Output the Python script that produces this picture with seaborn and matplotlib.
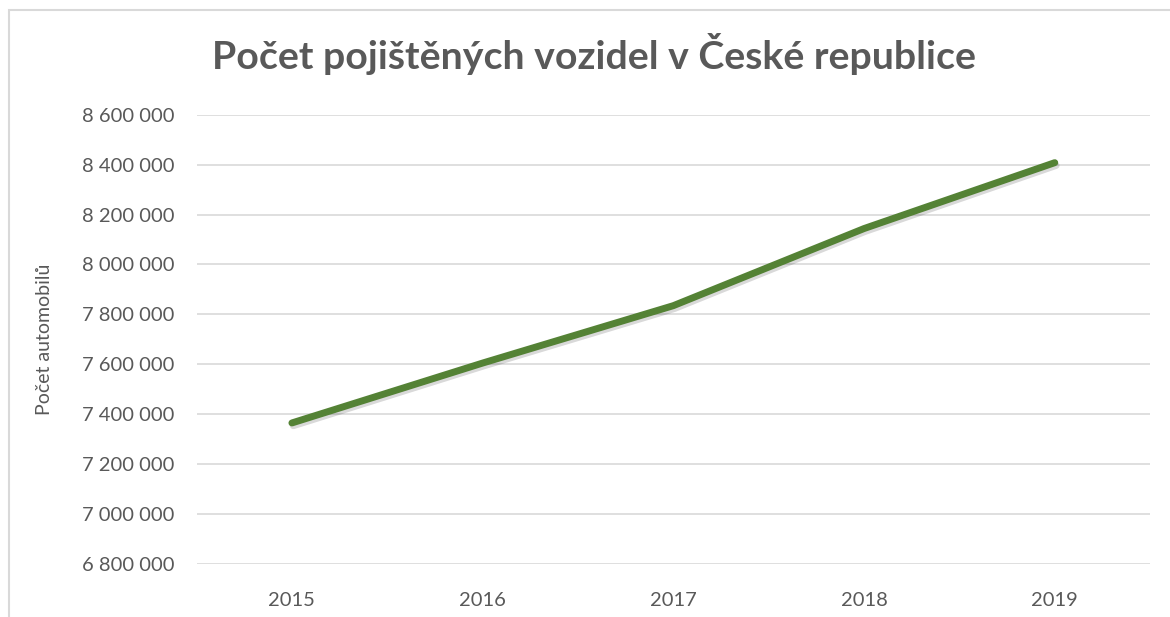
import matplotlib
matplotlib.use('Agg')
import matplotlib.pyplot as plt
import matplotlib.patheffects as pe
from matplotlib.patches import Rectangle
from matplotlib.ticker import FuncFormatter, MultipleLocator
import pandas as pd
import seaborn as sns

# data
years = ['2015', '2016', '2017', '2018', '2019']
vehicles = [7365000, 7605000, 7835000, 8144000, 8408000]

title = 'Počet pojištěných vozidel v České republice'
y_label = 'Počet automobilů'

df = pd.DataFrame({'rok': years, 'pocet': vehicles})

sns.set_theme(style='white')
plt.rcParams['font.family'] = ['Lato', 'DejaVu Sans']

grey = '#595959'
green = '#548235'

fig = plt.figure(figsize=(11.7, 6.17), dpi=100)
ax = fig.add_axes([0.168, 0.086, 0.815, 0.728])

sns.lineplot(data=df, x='rok', y='pocet', sort=False, color=green, linewidth=5,
             solid_capstyle='round', ax=ax,
             path_effects=[pe.SimpleLineShadow(offset=(1, -2), shadow_color='#000000', alpha=0.15),
                           pe.Normal()])

ax.set_xlim(-0.5, len(years) - 0.5)
ax.set_ylim(6800000, 8600000)
ax.yaxis.set_major_locator(MultipleLocator(200000))
ax.yaxis.set_major_formatter(FuncFormatter(lambda v, p: f'{v:,.0f}'.replace(',', ' ')))
ax.grid(axis='y', color='#d9d9d9', linewidth=1.2)
ax.set_axisbelow(True)
for s in ax.spines.values():
    s.set_visible(False)
ax.tick_params(axis='both', length=0, labelsize=14.5, labelcolor=grey)
ax.tick_params(axis='y', pad=16)
ax.tick_params(axis='x', pad=20)
ax.set_xlabel('')
ax.set_ylabel(y_label, fontsize=14, color=grey, labelpad=21)

fig.text(0.508, 0.912, title, ha='center', va='center', fontsize=28.3,
         fontweight='bold', color=grey)

# chart frame (cropped at right/bottom like the original)
fig.patches.append(Rectangle((9 / 1170, -0.1), 1.2, 1 - 10 / 617 + 0.1,
                             transform=fig.transFigure, fill=False,
                             edgecolor='#d9d9d9', linewidth=1.5))

fig.savefig('out.png', dpi=100, facecolor='white')
